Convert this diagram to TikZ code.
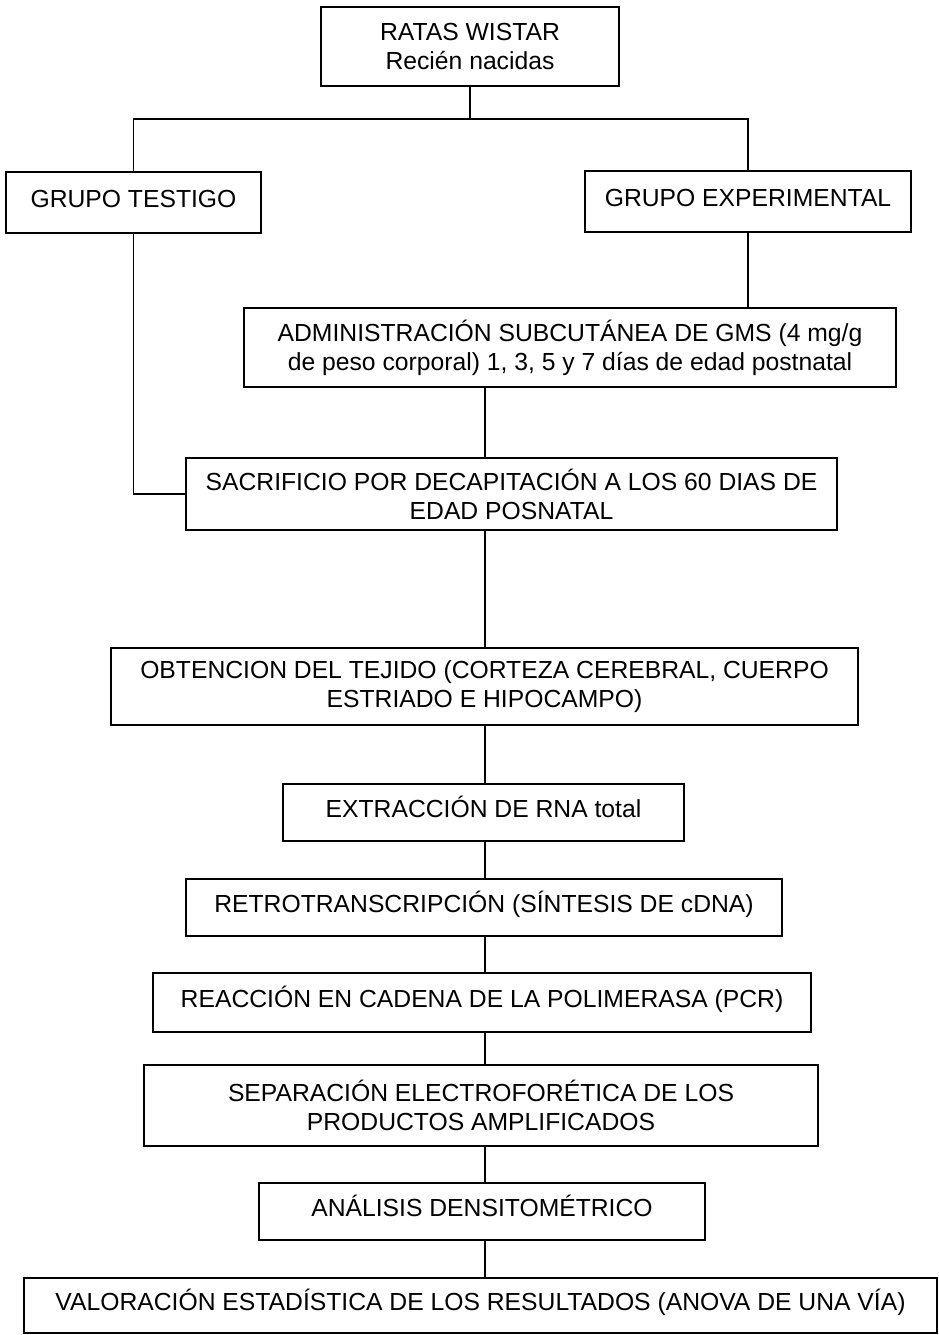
\documentclass[tikz,border=0pt]{standalone}
\usepackage{fontspec}
\setmainfont{Liberation Sans}
\begin{document}
\begin{tikzpicture}[x=1pt,y=-1pt,
  box/.style={draw,line width=1.5pt,rectangle,inner sep=0pt,align=center,
    font=\fontsize{24.7}{29}\selectfont},
  one/.style={text height=18pt,text depth=8.3pt},
  conn/.style={line width=1.4pt}]
\path[use as bounding box] (0,0) rectangle (939,1335);
\node[box,minimum width=298pt,minimum height=79pt] (ratas) at (470,46.5) {RATAS WISTAR\\Recién nacidas};
\node[box,one,minimum width=255pt,minimum height=61pt] (testigo) at (133.5,202.5) {GRUPO TESTIGO};
\node[box,one,minimum width=326pt,minimum height=61pt] (exp) at (748,201.5) {GRUPO EXPERIMENTAL};
\node[box,minimum width=652pt,minimum height=79pt] (admin) at (570,347.5) {ADMINISTRACIÓN SUBCUTÁNEA DE GMS (4 mg/g\\de peso corporal) 1, 3, 5 y 7 días de edad postnatal};
\node[box,minimum width=651pt,minimum height=72pt] (sacr) at (511.5,494) {SACRIFICIO POR DECAPITACIÓN A LOS 60 DIAS DE\\EDAD POSNATAL};
\node[box,minimum width=747pt,minimum height=77pt] (obt) at (484.5,686.5) {OBTENCION DEL TEJIDO (CORTEZA CEREBRAL, CUERPO\\ESTRIADO E HIPOCAMPO)};
\node[box,one,minimum width=401pt,minimum height=57pt] (ext) at (483.5,812.5) {EXTRACCIÓN DE RNA total};
\node[box,one,minimum width=596pt,minimum height=57pt] (retro) at (484,907.5) {RETROTRANSCRIPCIÓN (SÍNTESIS DE cDNA)};
\node[box,one,minimum width=658pt,minimum height=59pt] (pcr) at (482,1002.5) {REACCIÓN EN CADENA DE LA POLIMERASA (PCR)};
\node[box,minimum width=674pt,minimum height=81pt] (sep) at (481,1105.5) {SEPARACIÓN ELECTROFORÉTICA DE LOS\\PRODUCTOS AMPLIFICADOS};
\node[box,one,minimum width=446pt,minimum height=57pt] (ana) at (482,1211.5) {ANÁLISIS DENSITOMÉTRICO};
\node[box,one,minimum width=913pt,minimum height=55pt] (val) at (480.5,1305.5) {VALORACIÓN ESTADÍSTICA DE LOS RESULTADOS (ANOVA DE UNA VÍA)};
\coordinate (bar) at (470,119);
\coordinate (spine) at (485,0);
\draw[conn] (ratas.south) -- (bar);
\draw[conn] (testigo.north) |- (bar) -| (exp.north);
\draw[conn] (exp.south) -- (exp.south |- admin.north);
\draw[conn] (testigo.south) |- (sacr.west);
\draw[conn] (admin.south -| spine) -- (sacr.north -| spine);
\draw[conn] (sacr.south -| spine) -- (obt.north -| spine);
\draw[conn] (obt.south -| spine) -- (ext.north -| spine);
\draw[conn] (ext.south -| spine) -- (retro.north -| spine);
\draw[conn] (retro.south -| spine) -- (pcr.north -| spine);
\draw[conn] (pcr.south -| spine) -- (sep.north -| spine);
\draw[conn] (sep.south -| spine) -- (ana.north -| spine);
\draw[conn] (ana.south -| spine) -- (val.north -| spine);
\end{tikzpicture}
\end{document}
